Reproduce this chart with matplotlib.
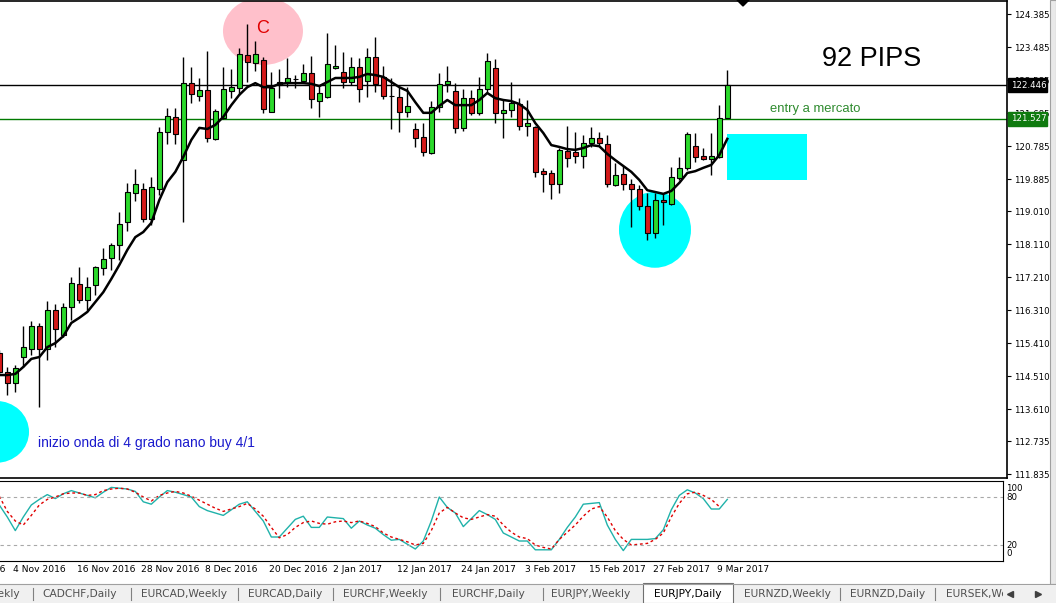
import numpy as np
import matplotlib.pyplot as plt
import matplotlib.transforms as mtransforms
from matplotlib.patches import Ellipse, Rectangle, Polygon

# ---- EURJPY daily candles ----
opens = [115.14, 114.62, 114.32, 115.03, 115.25, 115.88, 115.25, 116.31, 115.63, 116.40,
         117.02, 116.59, 116.99, 117.46, 117.73, 118.09, 118.71, 119.50, 119.61, 118.79,
         119.61, 121.17, 121.58, 120.40, 122.50, 122.15, 122.31, 120.98, 121.55, 122.29,
         122.37, 123.27, 123.05, 123.13, 121.71, 122.45, 122.53, 122.61, 122.56, 122.78,
         122.01, 122.12, 122.91, 122.80, 122.53, 122.94, 122.56, 123.21, 122.67, 122.15,
         122.12, 121.71, 121.25, 121.03, 120.59, 121.85, 122.48, 122.29, 121.28, 122.09,
         121.69, 122.34, 122.91, 121.69, 121.77, 121.93, 121.33, 121.30, 120.10, 120.05,
         119.75, 120.65, 120.62, 120.51, 120.87, 121.00, 120.84, 119.72, 120.02, 119.75,
         119.61, 119.15, 118.41, 119.31, 119.20, 119.91, 120.19, 120.78, 120.51, 120.43,
         120.49, 121.55]
closes = [114.62, 114.32, 114.73, 115.30, 115.88, 115.25, 116.31, 115.80, 116.40, 117.05,
          116.59, 116.94, 117.49, 117.70, 118.09, 118.66, 119.53, 119.75, 118.79, 119.67,
          121.17, 121.60, 121.11, 122.50, 122.20, 122.31, 121.00, 121.74, 122.34, 122.39,
          123.29, 123.08, 123.29, 121.79, 122.37, 122.53, 122.64, 122.61, 122.78, 122.07,
          122.23, 123.02, 122.97, 122.53, 122.94, 122.34, 123.21, 122.48, 122.15, 122.15,
          121.71, 121.88, 121.00, 120.62, 121.85, 122.48, 122.56, 121.28, 122.09, 121.69,
          122.34, 123.10, 121.69, 121.77, 121.96, 121.33, 121.41, 120.08, 120.02, 119.75,
          120.68, 120.46, 120.51, 120.87, 121.00, 120.87, 119.75, 119.99, 119.75, 119.61,
          119.15, 118.41, 119.31, 119.26, 119.94, 120.19, 121.11, 120.49, 120.43, 120.51,
          121.55, 122.446]
highs = [115.22, 114.76, 114.81, 115.88, 116.01, 115.96, 116.56, 116.48, 116.50, 117.21,
         117.49, 117.21, 117.51, 118.00, 118.14, 118.99, 119.78, 120.16, 119.78, 119.94,
         121.30, 121.82, 121.82, 123.21, 122.94, 122.64, 123.38, 121.79, 122.94, 122.89,
         123.46, 124.11, 123.65, 123.21, 122.80, 122.89, 123.19, 122.72, 123.02, 123.24,
         122.45, 123.87, 123.54, 123.35, 123.21, 123.19, 123.46, 123.76, 122.97, 122.64,
         122.39, 122.39, 121.41, 121.41, 122.01, 122.78, 122.97, 122.50, 122.34, 122.31,
         122.67, 123.32, 123.16, 122.04, 122.53, 122.09, 122.04, 121.33, 120.19, 120.13,
         120.73, 121.33, 121.17, 121.09, 121.30, 121.17, 121.09, 120.32, 120.24, 119.89,
         119.72, 119.50, 119.50, 119.50, 120.21, 120.49, 121.17, 121.14, 120.73, 121.14,
         121.90, 122.86]
lows = [114.57, 114.00, 114.08, 114.76, 115.09, 113.67, 114.95, 115.30, 115.58, 116.04,
        116.50, 116.31, 116.72, 117.27, 117.40, 117.68, 118.47, 119.29, 118.71, 118.63,
        119.45, 120.84, 120.84, 118.71, 121.96, 122.01, 120.89, 120.95, 121.52, 122.09,
        122.18, 122.53, 122.83, 121.69, 121.71, 122.09, 122.39, 122.37, 122.50, 121.82,
        121.58, 122.09, 122.89, 122.37, 122.45, 121.98, 122.12, 122.26, 122.07, 121.25,
        121.17, 121.58, 120.76, 120.51, 120.57, 121.71, 122.26, 121.14, 121.19, 121.63,
        121.63, 122.23, 121.41, 121.00, 121.58, 121.22, 121.06, 119.94, 119.53, 119.34,
        119.50, 120.21, 120.32, 120.19, 120.76, 120.81, 119.67, 119.69, 119.58, 118.58,
        119.04, 118.22, 118.28, 118.63, 119.18, 119.86, 120.13, 120.35, 120.40, 119.99,
        120.46, 121.55]
ma = [114.54, 114.54, 114.57, 114.76, 114.98, 115.03, 115.30, 115.41, 115.60, 115.96,
      116.10, 116.26, 116.53, 116.80, 117.16, 117.54, 117.95, 118.30, 118.44, 118.69,
      119.31, 119.80, 120.08, 120.49, 120.95, 121.28, 121.25, 121.36, 121.58, 121.90,
      122.18, 122.39, 122.50, 122.39, 122.39, 122.48, 122.50, 122.50, 122.50, 122.48,
      122.42, 122.53, 122.64, 122.64, 122.64, 122.67, 122.75, 122.72, 122.67, 122.53,
      122.39, 122.29, 121.98, 121.69, 121.69, 121.88, 122.04, 121.90, 121.90, 121.90,
      122.04, 122.23, 122.09, 122.04, 122.01, 121.93, 121.77, 121.41, 121.14, 120.81,
      120.76, 120.70, 120.68, 120.73, 120.81, 120.78, 120.57, 120.40, 120.24, 120.08,
      119.86, 119.58, 119.53, 119.48, 119.56, 119.78, 120.05, 120.10, 120.19, 120.27,
      120.54, 120.98]

# stochastic oscillator (main / signal)
stoch_k = [70, 55, 38, 55, 70, 77, 83, 78, 84, 88, 85, 82, 79, 86, 92, 91, 90, 87, 74, 71,
           80, 88, 86, 83, 80, 68, 63, 60, 57, 64, 71, 74, 62, 50, 30, 30, 41, 52, 56, 42,
           42, 55, 54, 53, 41, 50, 45, 41, 33, 26, 27, 21, 15, 25, 50, 80, 67, 60, 43, 53,
           63, 58, 52, 35, 30, 25, 25, 14, 14, 14, 27, 42, 55, 71, 72, 73, 45, 27, 13, 27,
           27, 27, 28, 39, 64, 82, 89, 85, 78, 65, 65, 77]
stoch_d = [81, 62, 50, 45, 57, 70, 77, 80, 84, 85, 85, 82, 83, 88, 90, 91, 90, 86, 80, 75,
           82, 85, 87, 85, 81, 76, 71, 66, 62, 65, 68, 72, 65, 56, 42, 29, 33, 42, 48, 50,
           47, 46, 49, 50, 48, 50, 47, 43, 35, 30, 27, 24, 20, 22, 38, 60, 67, 60, 54, 52,
           55, 58, 56, 45, 36, 30, 28, 20, 17, 15, 27, 36, 45, 56, 65, 68, 55, 38, 27, 20,
           21, 22, 27, 35, 55, 72, 84, 86, 82, 77, 68]

price_ticks = [124.385, 123.485, 122.585, 121.685, 120.785, 119.885, 119.010, 118.110,
               117.210, 116.310, 115.410, 114.510, 113.610, 112.735, 111.835]
date_idx = [-6, 2, 10, 18, 26, 34, 42, 50, 58, 66, 74, 82, 90]
date_lbl = ["25 Oct 2016", "4 Nov 2016", "16 Nov 2016", "28 Nov 2016", "8 Dec 2016",
            "20 Dec 2016", "2 Jan 2017", "12 Jan 2017", "24 Jan 2017", "3 Feb 2017",
            "15 Feb 2017", "27 Feb 2017", "9 Mar 2017"]
last_price, entry_price = 122.446, 121.527

tabs = ["CADCHF,Daily", "EURCAD,Weekly", "EURCAD,Daily", "EURCHF,Weekly", "EURCHF,Daily",
        "EURJPY,Weekly", "EURJPY,Daily", "EURNZD,Weekly", "EURNZD,Daily"]
tab_x = [80, 184, 285, 385, 488, 591, 688, 787, 888]

# ---- layout (pixel based, like the terminal window) ----
W, H = 1056, 603
P0, PPX = 124.767, 36.67          # price at pixel row 0, pixels per price unit
fig = plt.figure(figsize=(W / 100, H / 100), dpi=100)


def box(l, t, r, b):
    return [l / W, 1 - b / H, (r - l) / W, (b - t) / H]


ax = fig.add_axes(box(0, 1, 1007, 478))
ax2 = fig.add_axes(box(0, 481, 1003, 561))
ui = fig.add_axes([0, 0, 1, 1], zorder=5)
ui.set_xlim(0, W)
ui.set_ylim(H, 0)
ui.axis("off")

ax.set_xlim(0.7 / 8, 1007.7 / 8)
ax.set_ylim(P0 - 478 / PPX, P0 - 1 / PPX)
ax2.set_xlim(0.7 / 8, 1003.7 / 8)
ax2.set_ylim(0, 100)

x = np.arange(len(opens))
o = np.array(opens); c = np.array(closes)

# annotation shapes (behind the candles)
ax.add_patch(Ellipse((32.96, 123.92), 10.0, 1.85, color="#ffc0cb", zorder=1, lw=0))
ax.add_patch(Ellipse((81.96, 118.50), 9.0, 2.07, color="#00ffff", zorder=1, lw=0))
ax.add_patch(Ellipse((-0.41, 112.99), 8.25, 1.69, color="#00ffff", zorder=1, lw=0))
ax.add_patch(Rectangle((90.96, 119.86), 10.0, 1.25, color="#00ffff", zorder=1, lw=0))

ax.axhline(last_price, color="black", lw=1, zorder=2)
ax.axhline(entry_price, color="#007a00", lw=1, zorder=2)

ax.vlines(x, lows, highs, color="black", lw=1, zorder=3)
cols = np.where(c > o, "#2bd92b", np.where(c < o, "#d41a1a", "black"))
ax.bar(x, np.abs(c - o), bottom=np.minimum(o, c), width=0.64, color=cols,
       edgecolor="black", linewidth=0.8, zorder=4)
ax.plot(x, ma, color="black", lw=1.8, zorder=5)

ax.text(32.96, 123.98, "C", color="#e00000", fontsize=13, ha="center", va="center",
        family="Liberation Sans", zorder=6)
ax.text(102.84, 123.16, "92 PIPS", color="black", fontsize=19.5, ha="left", va="center",
        family="Liberation Sans")
ax.text(96.34, 121.80, "entry a mercato", color="#2e8b2e", fontsize=9.4, ha="left",
        va="center", family="Liberation Sans")
ax.text(4.84, 112.69, "inizio onda di 4 grado nano buy 4/1", color="#1a1acd", fontsize=10,
        ha="left", va="center", family="Liberation Sans")

# price scale
ax.yaxis.tick_right()
ax.set_yticks(price_ticks)
ax.set_yticklabels([f"{v:.3f}" for v in price_ticks])
ax.tick_params(axis="y", length=3, width=0.8, pad=2, labelsize=6.2)
ax.set_xticks([])
ax.spines["left"].set_visible(False)
for s in ["top", "bottom", "right"]:
    ax.spines[s].set_linewidth(1.2)

bt = mtransforms.blended_transform_factory(ax.transAxes, ax.transData)
for val, bg in [(last_price, "black"), (entry_price, "#0f7a0f")]:
    ax.add_patch(Rectangle((1.001, val - 0.19), 0.0387, 0.38, transform=bt, color=bg,
                           clip_on=False, zorder=10))
    ax.text(1.0035, val, f"{val:.3f}", transform=bt, color="white", fontsize=6.2,
            va="center", ha="left", clip_on=False, zorder=11)

# oscillator window
ax2.plot(x, stoch_k, color="#20b2aa", lw=1)
ax2.plot(x[:len(stoch_d)], stoch_d, color="#e00000", lw=1, ls=(0, (2, 2)))
for lv in (20, 80):
    ax2.axhline(lv, color="#a8a8a8", lw=0.8, ls=(0, (3, 3)))
ax2.set_xticks([])
ax2.set_yticks([])
ax2.spines["left"].set_visible(False)
bt2 = mtransforms.blended_transform_factory(ax2.transAxes, ax2.transData)
for val, pos in [("100", 91), ("80", 79), ("20", 20), ("0", 9)]:
    ax2.text(1.003, pos, val, transform=bt2, fontsize=6.2, va="center", ha="left",
             clip_on=False)
bd = mtransforms.blended_transform_factory(ax2.transData, ax2.transAxes)
for i, lbl in zip(date_idx, date_lbl):
    ax2.text(i - 0.3, -0.11, lbl, transform=bd, fontsize=6.6, va="center", ha="left",
             clip_on=False)

# terminal chrome: top marker, scrollbar, tab bar
ui.add_patch(Polygon([(737, 0), (749, 0), (743, 6)], closed=True, color="black"))
ui.add_patch(Rectangle((1050, 0), 6, 584, facecolor="#e9e9e9", edgecolor="#a0a0a0", lw=0.8))
ui.add_patch(Rectangle((0, 584), W, 19, facecolor="#f0f0f0", edgecolor="none"))
ui.plot([0, W], [584, 584], color="#a0a0a0", lw=0.8)
ui.add_patch(Rectangle((643, 583), 90, 20, facecolor="white", edgecolor="#707070", lw=0.8))
ui.text(20, 594, "Weekly", fontsize=7.7, color="#505050", ha="right", va="center")
for tx, lbl in zip(tab_x, tabs):
    ui.text(tx, 594, lbl, fontsize=7.7, ha="center", va="center",
            color="black" if lbl == "EURJPY,Daily" else "#505050")
for sx in [33, 131, 238, 333, 440, 543, 840, 935]:
    ui.plot([sx, sx], [588, 600], color="#808080", lw=0.8)
ui.text(946, 594, "EURSEK,Weekly", fontsize=7.7, color="#505050", ha="left", va="center")
ui.add_patch(Rectangle((1003, 585), 53, 18, facecolor="#f0f0f0", edgecolor="none", zorder=6))
ui.plot([1010], [594], marker="<", color="#404040", ms=4, zorder=7)
ui.plot([1038], [594], marker=">", color="#404040", ms=4, zorder=7)

fig.savefig("out.png", dpi=100)
